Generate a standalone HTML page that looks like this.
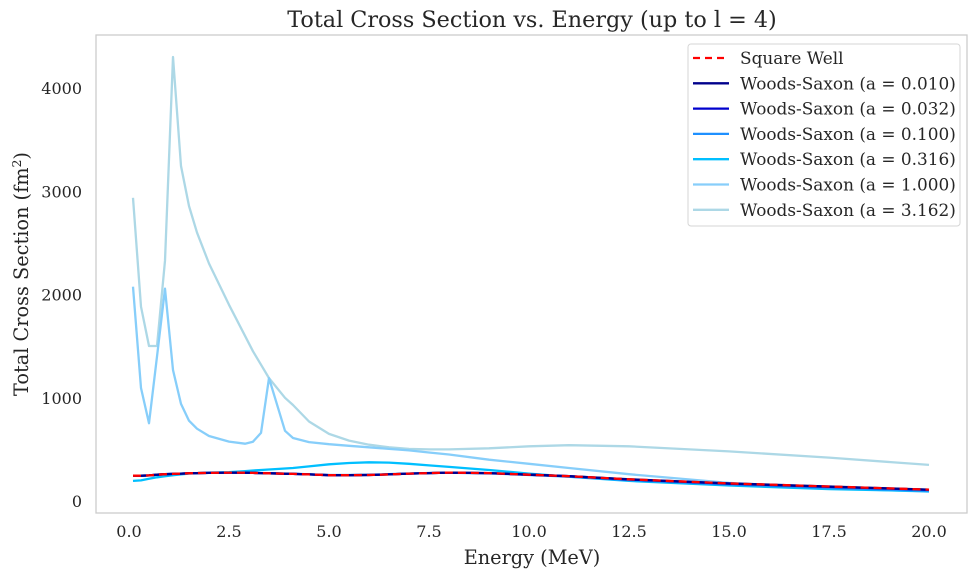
<!DOCTYPE html>
<html><head><meta charset="utf-8"><style>
body{margin:0;background:#fff;width:978px;height:578px;overflow:hidden}
svg text{font-family:"DejaVu Serif","Liberation Serif",serif;fill:#262626}
</style></head><body>
<svg id="chart" width="978" height="578" viewBox="0 0 978 578" xmlns="http://www.w3.org/2000/svg">
<rect x="0" y="0" width="978" height="578" fill="#fff"/>
<text x="532" y="27" text-anchor="middle" font-size="22.3">Total Cross Section vs. Energy (up to l = 4)</text>
<rect x="96" y="35" width="871" height="478" fill="none" stroke="#cccccc" stroke-width="1.3"/>
<g id="xticks"></g>
<g id="yticks"></g>
<text x="532" y="564" text-anchor="middle" font-size="19.3">Energy (MeV)</text>
<text transform="translate(28,274) rotate(-90)" text-anchor="middle" font-size="19.3">Total Cross Section (fm<tspan baseline-shift="super" font-size="12.5">2</tspan>)</text>
<g id="series"></g>
<g id="legend">
<rect x="688" y="44" width="272" height="182" rx="3" fill="#fff" stroke="#d6d6d6"/>
</g>
</svg>
<script>
const energies=[0.1,0.3,0.5,0.7,0.9,1.1,1.3,1.5,1.7,2.0,2.5,2.9,3.1,3.3,3.5,3.9,4.1,4.5,5,5.5,6,6.5,7,7.5,8,9,10,11,12.5,15,17.5,20];
const squareWell=[245,245,248,255,260,262,265,268,270,272,275,274,272,270,268,264,262,258,250,250,252,258,265,270,275,270,255,240,210,170,140,110];
const ws0010=[245,245,248,255,260,262,265,268,270,272,275,274,272,270,268,264,262,258,250,250,252,258,265,270,275,270,255,240,210,170,140,110];
const ws0032=[245,245,248,255,260,262,265,268,270,272,275,274,272,270,268,264,262,258,250,250,252,258,265,270,275,270,255,240,208,168,138,108];
const ws0100=[243,244,247,254,259,262,265,268,270,272,275,274,273,271,269,265,263,259,252,252,254,260,266,271,274,268,252,236,202,160,128,100];
const ws0316=[195,200,215,230,240,250,258,265,270,275,280,290,295,300,305,315,320,335,355,368,375,372,360,345,330,300,265,235,195,150,115,95];
const ws1000=[2076,1094,753,1400,2056,1269,940,778,700,630,575,555,574,660,1190,680,610,570,550,535,520,505,490,470,450,400,360,320,260,175,125,90];
const ws3162=[2937,1882,1501,1501,2327,4300,3245,2857,2600,2300,1900,1600,1450,1320,1190,1000,930,770,650,585,545,520,505,500,500,510,530,540,530,480,420,350];
const xTicks=[0,2.5,5,7.5,10,12.5,15,17.5,20];
const yTicks=[0,1000,2000,3000,4000];
const labels=["Square Well","Woods-Saxon (a = 0.010)","Woods-Saxon (a = 0.032)","Woods-Saxon (a = 0.100)","Woods-Saxon (a = 0.316)","Woods-Saxon (a = 1.000)","Woods-Saxon (a = 3.162)"];

const NS="http://www.w3.org/2000/svg";
function xs(e){return 129+40*e;}
function ys(v){return 501-0.10325*v;}
const xg=document.getElementById('xticks'),yg=document.getElementById('yticks');
xTicks.forEach(t=>{const el=document.createElementNS(NS,'text');


el.setAttribute('x',xs(t));el.setAttribute('y',537);el.setAttribute('text-anchor','middle');el.setAttribute('font-size','16');
el.textContent=t.toFixed(1);xg.appendChild(el);});
yTicks.forEach(t=>{const el=document.createElementNS(NS,'text');


el.setAttribute('x',82);el.setAttribute('y',ys(t)+6);el.setAttribute('text-anchor','end');el.setAttribute('font-size','16');
el.textContent=t;yg.appendChild(el);});
const styles=[
 {c:'#ff0000',d:'8,5'},{c:'#00008b'},{c:'#0000cd'},{c:'#1e90ff'},{c:'#00bfff'},{c:'#87cefa'},{c:'#add8e6'}];
const data=[squareWell,ws0010,ws0032,ws0100,ws0316,ws1000,ws3162];
const names=['square-well-line','ws-a0010-line','ws-a0032-line','ws-a0100-line','ws-a0316-line','ws-a1000-line','ws-a3162-line'];
const sg=document.getElementById('series');
const order=[6,5,4,3,2,1,0];
order.forEach(i=>{const p=document.createElementNS(NS,'path');


p.setAttribute('d',data[i].map((v,k)=>(k?'L':'M')+xs(energies[k]).toFixed(1)+','+ys(v).toFixed(1)).join(''));
p.setAttribute('fill','none');p.setAttribute('stroke',styles[i].c);p.setAttribute('stroke-width','2.3');p.setAttribute('stroke-linejoin','round');
if(styles[i].d)p.setAttribute('stroke-dasharray',styles[i].d);
sg.appendChild(p);});
const lg=document.getElementById('legend');
labels.forEach((l,i)=>{const y=58+25.3*i;
const ln=document.createElementNS(NS,'line');


ln.setAttribute('x1',693);ln.setAttribute('x2',729);ln.setAttribute('y1',y);ln.setAttribute('y2',y);
ln.setAttribute('stroke',styles[i].c);ln.setAttribute('stroke-width','2.3');
if(styles[i].d)ln.setAttribute('stroke-dasharray','7,5');
lg.appendChild(ln);
const t=document.createElementNS(NS,'text');


t.setAttribute('x',740);t.setAttribute('y',y+6);t.setAttribute('font-size','16.9');t.textContent=l;lg.appendChild(t);});
</script>
</body></html>
